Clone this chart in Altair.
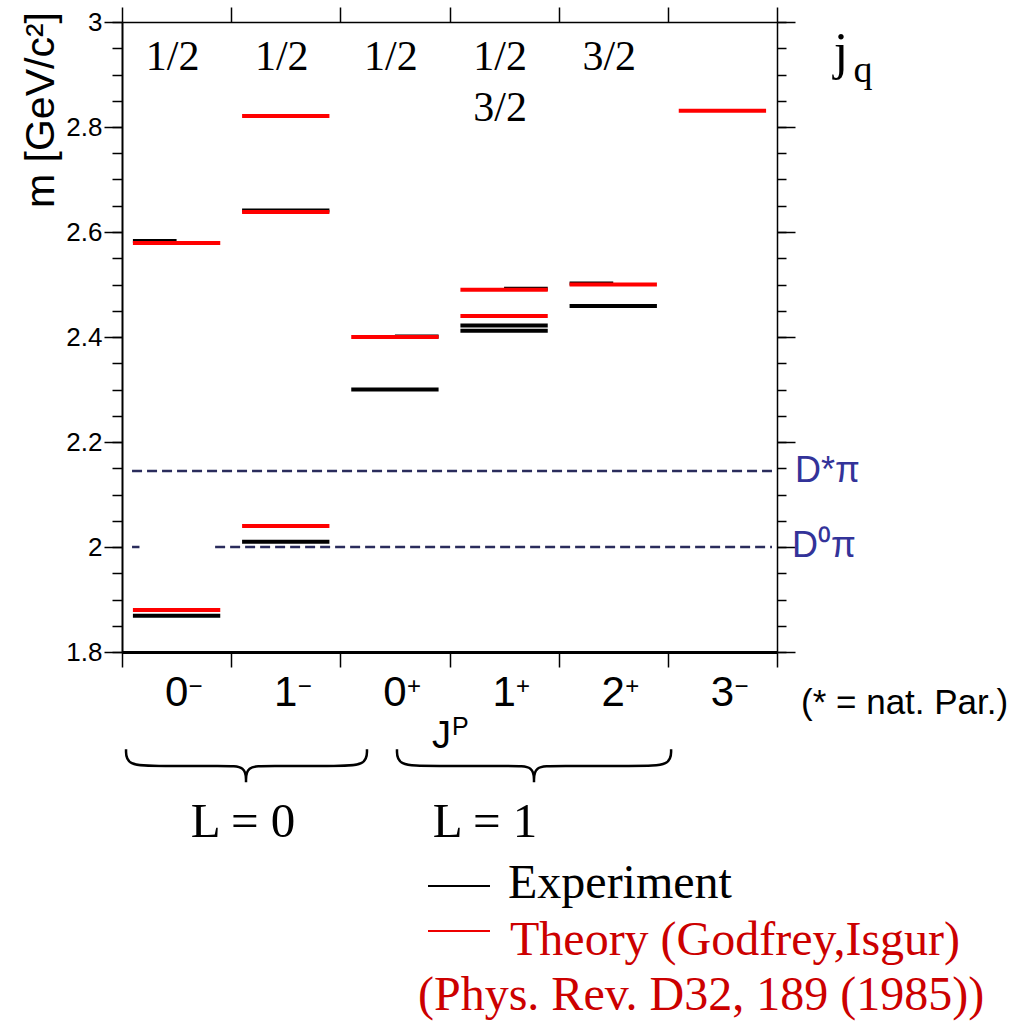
import altair as alt
import pandas as pd

# ---------------- data ----------------
jp_spin = ["0", "1", "0", "1", "2", "3"]
jp_parity = ["−", "−", "+", "+", "+", "−"]
jq_row1 = ["1/2", "1/2", "1/2", "1/2", "3/2", ""]
jq_row2 = ["", "", "", "3/2", "", ""]

exp_cat = [0, 0, 1, 1, 2, 2, 3, 3, 3, 4, 4]
exp_mass = [1.869, 2.583, 2.010, 2.641, 2.300, 2.401, 2.412, 2.422, 2.492, 2.459, 2.502]
exp_span = ["full", "left", "full", "full", "full", "right", "full", "full", "right", "full", "left"]

th_cat = [0, 0, 1, 1, 1, 2, 3, 3, 4, 5]
th_mass = [1.880, 2.579, 2.040, 2.638, 2.821, 2.400, 2.440, 2.490, 2.500, 2.831]

thr_label = ["D*π", "D⁰π"]
thr_mass = [2.145, 2.000]

L_groups = ["L = 0", "L = 1"]

# ---------------- geometry / style ----------------
W, H = 655, 630
xs = alt.Scale(domain=[0, 6], nice=False, zero=False)
ys = alt.Scale(domain=[1.8, 3.0], nice=False, zero=False)
SANS = "Liberation Sans"
SERIF = "Liberation Serif"
BLUE = "#333399"


def span(idx, kind):
    lo, hi = idx + 0.1, idx + 0.9
    if kind == "left":
        hi = idx + 0.5
    if kind == "right":
        lo = idx + 0.5
    return lo, hi


exp_rows = []
for c, m, k in zip(exp_cat, exp_mass, exp_span):
    lo, hi = span(c, k)
    exp_rows.append({"x0": lo, "x1": hi, "m": m})
exp_df = pd.DataFrame(exp_rows)

th_rows = []
for c, m in zip(th_cat, th_mass):
    lo, hi = span(c, "full")
    th_rows.append({"x0": lo, "x1": hi, "m": m})
th_df = pd.DataFrame(th_rows)

# threshold line segments (index into thr_mass, start, end in band units)
thr_segments = [(0, 0.092, 5.954), (1, 0.092, 0.16), (1, 0.853, 5.954)]
thr_df = pd.DataFrame([{"x0": a, "x1": b, "m": thr_mass[i]} for i, a, b in thr_segments])

# braces
brace_x0 = [0.037, 2.519]
brace_cx = [1.136, 3.774]
brace_x1 = [2.244, 5.03]
B_TOP, B_FLAT, B_CUSP = 1.615, 1.583, 1.552
R_END, R_MID = 0.32, 0.2
brace_rows = []
for g, (a, c, b) in enumerate(zip(brace_x0, brace_cx, brace_x1)):
    pts = [(a, B_TOP), (a, B_FLAT), (a + R_END, B_FLAT), (c - R_MID, B_FLAT), (c, B_FLAT),
           (c, B_CUSP), (c, B_CUSP), (c, B_CUSP),
           (c, B_FLAT), (c + R_MID, B_FLAT), (b - R_END, B_FLAT), (b, B_FLAT), (b, B_TOP)]
    for i, (px, py) in enumerate(pts):
        brace_rows.append({"g": g, "i": i, "x": px, "m": py})
brace_df = pd.DataFrame(brace_rows)

cat_df = pd.DataFrame({
    "xc": [i + 0.5 for i in range(6)],
    "J": jp_spin, "P": jp_parity, "r1": jq_row1, "r2": jq_row2,
})

majors = [1.8, 2.0, 2.2, 2.4, 2.6, 2.8, 3.0]
minors = [round(1.8 + 0.05 * k, 2) for k in range(25)]
xticks = [0, 1, 2, 3, 4, 5, 6]

ax_bottom = alt.Axis(orient="bottom", values=xticks, labels=False, tickSize=15, tickWidth=1.5,
                     domainWidth=3, title=None, grid=False)
ax_top = alt.Axis(orient="top", values=xticks, labels=False, tickSize=15, tickWidth=1.5,
                  domainWidth=1.5, title=None, grid=False)
ay_left = alt.Axis(orient="left", values=majors, format="~g", labelFont=SANS, labelFontSize=26,
                   labelPadding=2, tickSize=18, tickWidth=1.5, domainWidth=2, title=None, grid=False)
ay_left_minor = alt.Axis(orient="left", values=minors, labels=False, tickSize=10, tickWidth=1.5,
                         domain=False, title=None, grid=False)
ay_right = alt.Axis(orient="right", values=majors, labels=False, tickSize=18, tickWidth=1.5,
                    domainWidth=1.5, title=None, grid=False)
ay_right_minor = alt.Axis(orient="right", values=minors, labels=False, tickSize=9, tickWidth=1.5,
                          domain=False, title=None, grid=False)

# ---------------- layers ----------------
exp_layer = alt.Chart(exp_df).mark_rule(color="black", strokeWidth=4).encode(
    x=alt.X("x0:Q", scale=xs, axis=ax_bottom), x2="x1:Q",
    y=alt.Y("m:Q", scale=ys, axis=ay_left))

th_layer = alt.Chart(th_df).mark_rule(color="#ff0000", strokeWidth=4).encode(
    x=alt.X("x0:Q", scale=xs, axis=ax_top), x2="x1:Q",
    y=alt.Y("m:Q", scale=ys, axis=ay_right))

thr_layer = alt.Chart(thr_df).mark_rule(color="#2a2c5c", strokeWidth=2.5, strokeDash=[10, 5]).encode(
    x=alt.X("x0:Q", scale=xs, axis=None), x2="x1:Q",
    y=alt.Y("m:Q", scale=ys, axis=ay_left_minor))

brace_layer = alt.Chart(brace_df).mark_line(interpolate="basis", color="black", strokeWidth=2.5).encode(
    x=alt.X("x:Q", scale=xs, axis=None),
    y=alt.Y("m:Q", scale=ys, axis=ay_right_minor),
    detail="g:N", order=alt.Order("i:Q"))

cat_base = alt.Chart(cat_df)
jq1 = cat_base.mark_text(font=SERIF, fontSize=42, baseline="alphabetic", dx=-4).encode(
    x=alt.X("xc:Q", scale=xs, axis=None), y=alt.value(48), text="r1:N")
jq2 = cat_base.mark_text(font=SERIF, fontSize=42, baseline="alphabetic", dx=-4).encode(
    x=alt.X("xc:Q", scale=xs, axis=None), y=alt.value(99), text="r2:N")
jdig = cat_base.mark_text(font=SANS, fontSize=42, baseline="alphabetic", align="center").encode(
    x=alt.X("xc:Q", scale=xs, axis=None), y=alt.value(684), text="J:N")
jpar = cat_base.mark_text(font=SANS, fontSize=24, baseline="alphabetic", align="left", dx=12).encode(
    x=alt.X("xc:Q", scale=xs, axis=None), y=alt.value(672), text="P:N")


def label(text, x, y, size, font=SANS, color="black", align="left", angle=None, baseline="alphabetic"):
    kw = dict(font=font, fontSize=size, color=color, align=align, baseline=baseline)
    if angle is not None:
        kw["angle"] = angle
    return alt.Chart(pd.DataFrame({"t": [text]})).mark_text(**kw).encode(
        text="t:N", x=alt.value(x), y=alt.value(y))


texts = [
    label("m [GeV/c²]", -80, 88, 41, angle=270, align="center", baseline="middle"),
    label("j", 719, 47, 52, font=SERIF, align="center"),
    label("q", 741, 60, 38, font=SERIF, align="center"),
    label(thr_label[0], 673, 460, 36, color=BLUE),
    label(thr_label[1], 670, 535, 36, color=BLUE),
    label("(* = nat. Par.)", 679, 692, 35),
    label("J", 310, 726, 38),
    label("P", 330, 713, 25),
    label(L_groups[0], 121, 815, 49, font=SERIF, align="center"),
    label(L_groups[1], 363, 815, 49, font=SERIF, align="center"),
    label("Experiment", 386, 876, 48, font=SERIF),
    label("Theory (Godfrey,Isgur)", 388, 933, 48, font=SERIF, color="#cc0000"),
    label("(Phys. Rev. D32, 189 (1985))", 296, 988, 48, font=SERIF, color="#cc0000"),
]

leg_exp = alt.Chart(pd.DataFrame({"k": ["e"]})).mark_rule(color="black", strokeWidth=2).encode(
    x=alt.value(306), x2=alt.value(368), y=alt.value(864))
leg_th = alt.Chart(pd.DataFrame({"k": ["t"]})).mark_rule(color="#ee0000", strokeWidth=2).encode(
    x=alt.value(306), x2=alt.value(368), y=alt.value(909))

chart = alt.layer(
    thr_layer, exp_layer, th_layer, brace_layer, jq1, jq2, jdig, jpar, leg_exp, leg_th, *texts
).resolve_axis(x="independent", y="independent").properties(
    width=W, height=H,
    autosize=alt.AutoSizeParams(type="none"),
    padding={"left": 122, "top": 22, "right": 1032 - 122 - W, "bottom": 1025 - 22 - H},
).configure_view(stroke=None).configure_axis(
    domainColor="black", tickColor="black", labelColor="black", grid=False)

chart.save("out.html", embed_options={"renderer": "svg", "actions": False})
